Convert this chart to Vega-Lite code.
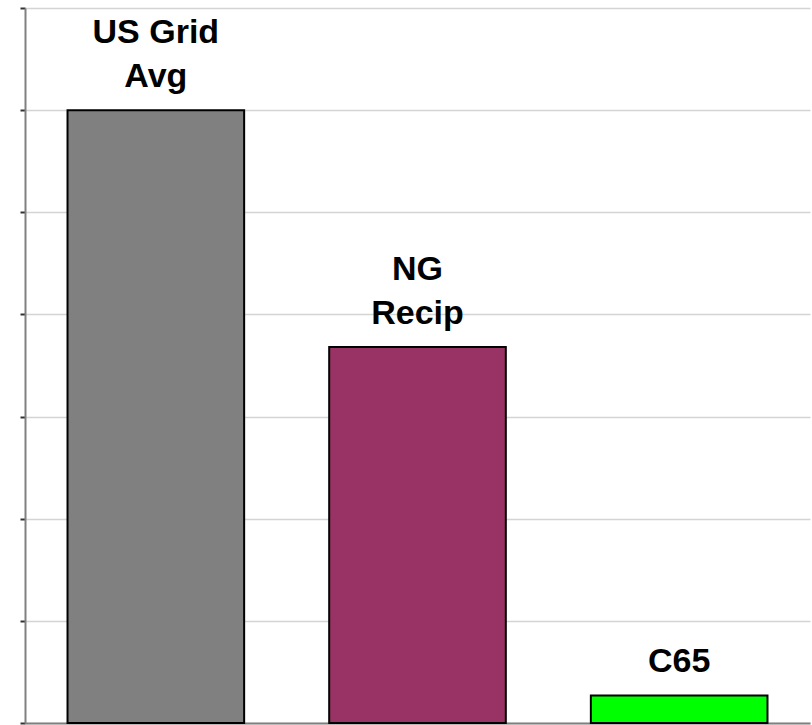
{
  "$schema": "https://vega.github.io/schema/vega-lite/v6.json",
  "autosize": {"type": "none"},
  "padding": {"left": 25, "top": 8, "right": 2, "bottom": 2},
  "width": 785,
  "height": 715,
  "background": "white",
  "config": {"view": {"stroke": null}},
  "data": {
    "values": [
      {"source": "US Grid Avg", "line1": "US Grid", "line2": "Avg", "value": 6.0, "color": "#808080"},
      {"source": "NG Recip", "line1": "NG", "line2": "Recip", "value": 3.68, "color": "#993366"},
      {"source": "C65", "line1": "", "line2": "C65", "value": 0.27, "color": "#00ff00"}
    ]
  },
  "encoding": {
    "x": {
      "field": "source",
      "type": "nominal",
      "sort": null,
      "scale": {"paddingInner": 0.325, "paddingOuter": 0.1625},
      "axis": {"title": null, "labels": false, "ticks": false, "domainColor": "#808080", "domainWidth": 2, "grid": false}
    },
    "y": {
      "field": "value",
      "type": "quantitative",
      "scale": {"domain": [0, 7], "nice": false},
      "axis": {
        "title": null,
        "labels": false,
        "values": [0, 1, 2, 3, 4, 5, 6, 7],
        "tickSize": 5,
        "tickColor": "#333333",
        "tickWidth": 2,
        "domainColor": "#808080",
        "domainWidth": 2,
        "grid": true,
        "gridColor": "#d4d4d4",
        "gridWidth": 1.5
      }
    }
  },
  "layer": [
    {
      "mark": {"type": "bar", "stroke": "black", "strokeWidth": 2},
      "encoding": {
        "color": {"field": "color", "type": "nominal", "scale": null, "legend": null}
      }
    },
    {
      "mark": {
        "type": "text",
        "font": "Liberation Sans",
        "fontWeight": "bold",
        "fontSize": 34,
        "baseline": "alphabetic",
        "align": "center",
        "dy": -67,
        "color": "black"
      },
      "encoding": {"text": {"field": "line1"}}
    },
    {
      "mark": {
        "type": "text",
        "font": "Liberation Sans",
        "fontWeight": "bold",
        "fontSize": 34,
        "baseline": "alphabetic",
        "align": "center",
        "dy": -23,
        "color": "black"
      },
      "encoding": {"text": {"field": "line2"}}
    }
  ]
}
